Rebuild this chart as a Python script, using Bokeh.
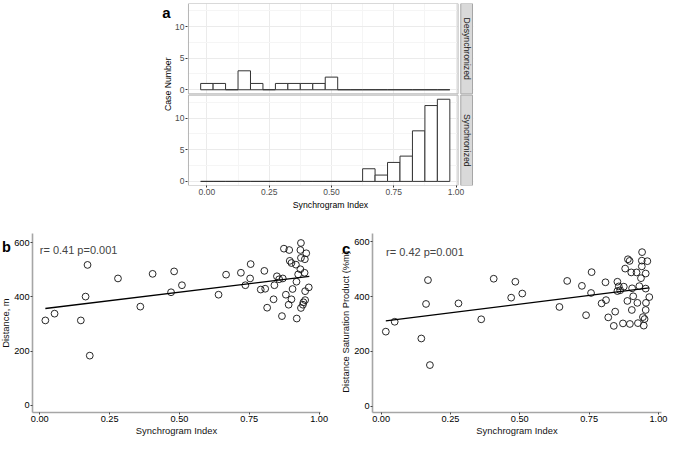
import numpy as np
from bokeh.plotting import figure
from bokeh.layouts import row, column
from bokeh.models import Spacer, FixedTicker, NumeralTickFormatter, Label, Range1d
from bokeh.embed import file_html
from bokeh.resources import INLINE
from bokeh.core.properties import value

# ---------------- data ----------------
bin_centers = [0.00, 0.05, 0.10, 0.15, 0.20, 0.25, 0.30, 0.35, 0.40, 0.45,
               0.50, 0.55, 0.60, 0.65, 0.70, 0.75, 0.80, 0.85, 0.90, 0.95]
bin_width = 0.05
desync_counts = [1, 1, 0, 3, 1, 0, 1, 1, 1, 1, 2, 0, 0, 0, 0, 0, 0, 0, 0, 0]
sync_counts = [0, 0, 0, 0, 0, 0, 0, 0, 0, 0, 0, 0, 0, 2, 1, 3, 4, 8, 12, 13]
facet_labels = ["Desynchronized", "Synchronized"]
count_ticks = [0, 5, 10]
count_minor = [2.5, 7.5, 12.5]
si_ticks = [0.0, 0.25, 0.5, 0.75, 1.0]
si_minor = [0.125, 0.375, 0.625, 0.875]

si_b = [0.020, 0.053, 0.147, 0.164, 0.171, 0.179, 0.280, 0.360, 0.404, 0.470,
        0.481, 0.509, 0.640, 0.667, 0.720, 0.736, 0.755, 0.753, 0.791, 0.804,
        0.807, 0.814, 0.837, 0.840, 0.849, 0.857, 0.870, 0.867, 0.874, 0.881,
        0.893, 0.891, 0.895, 0.901, 0.901, 0.905, 0.917, 0.919, 0.920, 0.925,
        0.933, 0.935, 0.933, 0.935, 0.935, 0.942, 0.948, 0.949, 0.950, 0.950,
        0.954, 0.963, 0.944]
distance_m = [313, 338, 313, 401, 518, 183, 468, 364, 485, 417,
              494, 443, 408, 482, 489, 443, 521, 468, 427, 496,
              430, 360, 391, 443, 476, 465, 468, 329, 578, 408,
              573, 371, 533, 525, 391, 429, 519, 456, 320, 483,
              502, 599, 573, 544, 359, 371, 489, 539, 388, 421,
              561, 435, 380]

si_c = [0.017, 0.049, 0.145, 0.162, 0.169, 0.176, 0.279, 0.361, 0.406, 0.469,
        0.484, 0.509, 0.643, 0.671, 0.724, 0.739, 0.757, 0.759, 0.795, 0.809,
        0.811, 0.819, 0.839, 0.844, 0.852, 0.852, 0.857, 0.862, 0.872, 0.875,
        0.880, 0.888, 0.890, 0.896, 0.897, 0.902, 0.904, 0.905, 0.909, 0.921,
        0.924, 0.926, 0.931, 0.937, 0.940, 0.940, 0.941, 0.944, 0.947, 0.950,
        0.954, 0.954, 0.954, 0.955, 0.960, 0.967]
dsp = [272, 308, 247, 373, 460, 150, 375, 317, 465, 396,
       454, 411, 362, 457, 439, 332, 413, 489, 375, 452,
       387, 324, 293, 345, 454, 420, 437, 423, 302, 436,
       502, 384, 536, 530, 300, 488, 351, 430, 401, 488,
       377, 303, 438, 467, 531, 510, 562, 325, 294, 318,
       484, 429, 351, 377, 529, 398]

fit_x_b = [0.020, 0.965]
fit_y_b = [357, 476]
fit_x_c = [0.017, 0.967]
fit_y_c = [311, 432]
annot_b = "r= 0.41 p=0.001"
annot_c = "r= 0.42 p=0.001"
value_ticks = [0, 200, 400, 600]
title_x = "Synchrogram Index"
title_a_y = "Case Number"
title_b_y = "Distance, m"
title_c_y = "Distance Saturation Product (%m)"

FONT = "Liberation Sans"


def gutter(width, height, items):
    """Narrow text-only figure holding a panel letter and an axis title."""
    g = figure(width=width, height=height, x_range=Range1d(0, width),
               y_range=Range1d(height, 0), output_backend="svg",
               toolbar_location=None, x_axis_location=None,
               y_axis_location=None, min_border_left=0, min_border_right=0,
               min_border_top=0, min_border_bottom=0)
    g.grid.visible = False
    g.outline_line_color = None
    for (x, y, txt, size, style, angle, color) in items:
        g.text(x=[x], y=[y], text=[txt], angle=angle, text_align="center",
               text_baseline="middle", text_font=value(FONT),
               text_font_size=size, text_font_style=style, text_color=color)
    return g


# ---------------- panel a (faceted histogram) ----------------
OFF = 14.5           # vertical offset of the upper facet
PAN_LO, PAN_HI = -0.65, 13.65
X_LEFT, X_RIGHT = -0.0778, 1.070
P_L, P_R = -0.074, 1.008
S_L, S_R = 1.019, 1.066

pa = figure(width=306, height=212, x_range=(X_LEFT, X_RIGHT),
            y_range=(PAN_LO, OFF + PAN_HI), output_backend="svg",
            toolbar_location=None, min_border_left=12, min_border_right=5,
            min_border_top=3, min_border_bottom=27)
pa.outline_line_color = None
pa.background_fill_color = "white"

yt = [t for t in count_ticks] + [t + OFF for t in count_ticks]
ym = [t for t in count_minor] + [t + OFF for t in count_minor]
y_ticker = FixedTicker(ticks=yt, minor_ticks=ym)
x_ticker = FixedTicker(ticks=si_ticks, minor_ticks=si_minor)

pa.xgrid.ticker = x_ticker
pa.ygrid.ticker = y_ticker
for g in (pa.xgrid[0], pa.ygrid[0]):
    g.grid_line_color = "#ebebeb"
    g.grid_line_width = 1
    g.minor_grid_line_color = "#f5f5f5"
    g.minor_grid_line_width = 1

# white gaps between panels / strips
pa.quad(left=[P_R], right=[S_L], bottom=[PAN_LO], top=[OFF + PAN_HI],
        fill_color="white", line_color=None)
pa.quad(left=[X_LEFT], right=[X_RIGHT], bottom=[PAN_HI], top=[OFF + PAN_LO],
        fill_color="white", line_color=None)

centers = np.array(bin_centers)
for counts, off in ((desync_counts, OFF), (sync_counts, 0.0)):
    c = np.array(counts, dtype=float)
    pa.quad(left=centers - bin_width / 2, right=centers + bin_width / 2,
            bottom=np.zeros_like(c) + off, top=c + off,
            fill_color="white", line_color="#333333", line_width=1)

for lab, off in zip(facet_labels, (OFF, 0.0)):
    pa.quad(left=[P_L], right=[P_R], bottom=[PAN_LO + off], top=[PAN_HI + off],
            fill_color=None, line_color="#b3b3b3", line_width=1)
    pa.quad(left=[S_L], right=[S_R], bottom=[PAN_LO + off], top=[PAN_HI + off],
            fill_color="#d9d9d9", line_color="#a6a6a6", line_width=1)
    pa.text(x=[(S_L + S_R) / 2], y=[(PAN_LO + PAN_HI) / 2 + off], text=[lab],
            angle=-np.pi / 2, text_align="center", text_baseline="middle",
            text_font=value(FONT), text_font_size="8.7px", text_color="#1a1a1a")

pa.yaxis.ticker = y_ticker
overrides = {}
for t in count_ticks:
    overrides[float(t)] = str(t)
    overrides[float(t + OFF)] = str(t)
pa.yaxis.major_label_overrides = overrides
pa.xaxis.ticker = x_ticker
pa.xaxis.formatter = NumeralTickFormatter(format="0.00")
for ax in (pa.xaxis[0], pa.yaxis[0]):
    ax.axis_line_color = None
    ax.major_tick_out = 2
    ax.major_tick_in = 0
    ax.minor_tick_out = 0
    ax.minor_tick_in = 0
    ax.minor_tick_line_color = None
    ax.major_tick_line_color = "#333333"
    ax.major_label_text_font = FONT
    ax.major_label_text_font_size = "8.5px"
    ax.major_label_text_color = "#4d4d4d"
    ax.major_label_standoff = 1
    ax.axis_label_text_font = FONT
    ax.axis_label_text_font_size = "8.7px"
    ax.axis_label_text_font_style = "normal"
    ax.axis_label_text_color = "black"
    ax.axis_label_standoff = 2
pa.xaxis.axis_label = title_x

gut_a = gutter(26, 212, [
    (20.0, 10.6, "a", "15px", "bold", 0.0, "black"),
    (21.0, 94.0, title_a_y, "8.7px", "normal", np.pi / 2, "black"),
])


# ---------------- panels b and c (scatter) ----------------
def scatter_panel(xs, ys, fx, fy, annot, ax_x, width, xr, yr, borders):
    p = figure(width=width, height=227, x_range=xr, y_range=yr,
               output_backend="svg", toolbar_location=None,
               min_border_left=borders[0], min_border_right=borders[1],
               min_border_top=borders[2], min_border_bottom=borders[3])
    p.outline_line_color = None
    p.grid.visible = False
    p.scatter(xs, ys, marker="circle", size=6.8, fill_color=None,
              line_color="#111111", line_width=0.9)
    p.line(fx, fy, line_color="black", line_width=1.3)
    p.add_layout(Label(x=ax_x[0], y=ax_x[1], text=annot, text_font=FONT,
                       text_font_size="11px", text_align="left",
                       text_baseline="middle"))
    p.xaxis.ticker = FixedTicker(ticks=si_ticks)
    p.xaxis.formatter = NumeralTickFormatter(format="0.00")
    p.yaxis.ticker = FixedTicker(ticks=value_ticks)
    for ax in (p.xaxis[0], p.yaxis[0]):
        ax.axis_line_color = "#a6a6a6"
        ax.axis_line_width = 1.6
        ax.major_tick_out = 2
        ax.major_tick_in = 0
        ax.minor_tick_out = 0
        ax.minor_tick_in = 0
        ax.minor_tick_line_color = None
        ax.major_tick_line_color = "#444444"
        ax.major_label_text_font = FONT
        ax.major_label_text_font_size = "9.2px"
        ax.major_label_text_color = "black"
        ax.major_label_standoff = 1
        ax.axis_label_text_font = FONT
        ax.axis_label_text_font_size = "9.4px"
        ax.axis_label_text_font_style = "normal"
        ax.axis_label_text_color = "#111111"
        ax.axis_label_standoff = 0
    p.xaxis.axis_label = title_x
    return p


pb = scatter_panel(si_b, distance_m, fit_x_b, fit_y_b, annot_b, (0.0, 574),
                   321, (-0.026, 1.005), (-27, 634), (17, 12, 21, 23))
gut_b = gutter(11, 227, [
    (5.9, 17.6, "b", "14.5px", "bold", 0.0, "black"),
    (4.8, 113.6, title_b_y, "9.4px", "normal", np.pi / 2, "#111111"),
])

pc = scatter_panel(si_c, dsp, fit_x_c, fit_y_c, annot_c, (0.018, 563),
                   318, (-0.031, 1.011), (-23, 630), (18, 8, 18, 27))
gut_c = gutter(19, 227, [
    (13.7, 18.5, "c", "15px", "bold", 0.0, "black"),
    (12.7, 112.0, title_c_y, "9.4px", "normal", np.pi / 2, "#111111"),
])

layout = column(row(Spacer(width=146, height=212), gut_a, pa),
                row(gut_b, pb, gut_c, pc))

open("out.html", "w").write(file_html(layout, INLINE))
